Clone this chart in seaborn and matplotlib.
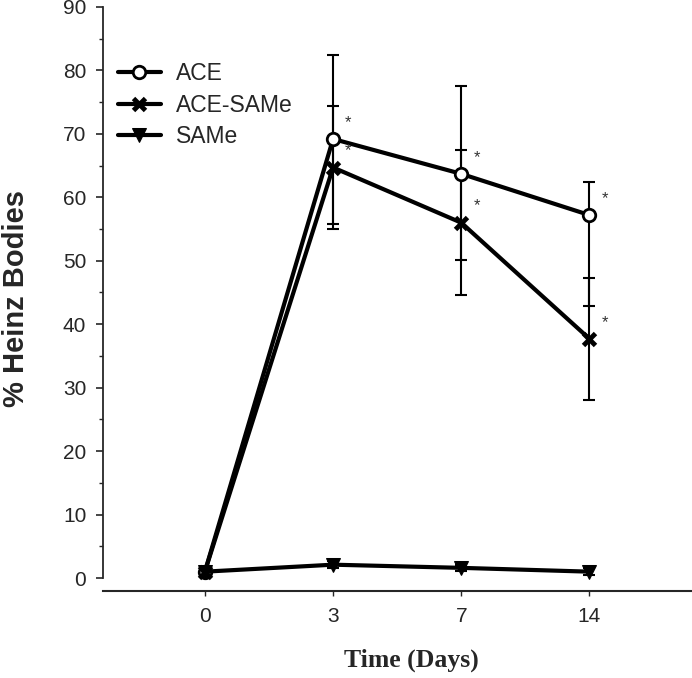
import numpy as np
import pandas as pd
import matplotlib
matplotlib.use('Agg')
import matplotlib.pyplot as plt
from matplotlib.ticker import MultipleLocator
import seaborn as sb

days = ['0', '3', '7', '14']
ace = [1.0, 69.2, 63.7, 57.2]
ace_err_lo = [0.5, 13.4, 13.6, 14.3]
ace_err_hi = [0.5, 13.3, 13.9, 5.2]
ace_same = [1.0, 64.7, 56.0, 37.7]
ace_same_err = [0.5, 9.7, 11.4, 9.6]
same = [1.0, 2.1, 1.6, 1.0]
same_err = [0.5, 0.6, 0.5, 0.5]
starred = {'ACE': [False, True, True, True], 'ACE-SAMe': [False, True, True, True]}

pos = np.arange(len(days))
df = pd.DataFrame({
    'pos': np.tile(pos, 3),
    'value': ace + ace_same + same,
    'group': ['ACE'] * 4 + ['ACE-SAMe'] * 4 + ['SAMe'] * 4,
})

sb.set_style('ticks')
plt.rcParams['font.family'] = ['Liberation Sans', 'DejaVu Sans']

fig = plt.figure(figsize=(6.92, 6.78), dpi=100)
ax = fig.add_axes([0.1488, 0.1283, 0.8512, 0.8614])

# error bars behind the lines
ax.errorbar(pos, ace, yerr=[ace_err_lo, ace_err_hi], fmt='none', ecolor='black',
            elinewidth=1.5, capsize=4, capthick=1.5, zorder=1)
ax.errorbar(pos, ace_same, yerr=ace_same_err, fmt='none', ecolor='black',
            elinewidth=1.5, capsize=4, capthick=1.5, zorder=1)
ax.errorbar(pos, same, yerr=same_err, fmt='none', ecolor='black',
            elinewidth=1.5, capsize=4, capthick=1.5, zorder=1)

styles = {
    'ACE': dict(marker='o', markersize=9, markerfacecolor='white', markeredgecolor='black', markeredgewidth=2),
    'ACE-SAMe': dict(marker='x', markersize=9, markeredgecolor='black', markeredgewidth=3.5),
    'SAMe': dict(marker='v', markersize=10, markerfacecolor='black', markeredgecolor='black'),
}
for name, kw in styles.items():
    sb.lineplot(data=df[df['group'] == name], x='pos', y='value', ax=ax, color='black',
                linewidth=3, label=name, zorder=3, **kw)

# significance asterisks
for name, vals in [('ACE', ace), ('ACE-SAMe', ace_same)]:
    for p, v, s in zip(pos, vals, starred[name]):
        if s:
            ax.annotate('*', (p, v), xytext=(11, 12), textcoords='offset points',
                        fontsize=12, color='#333333', ha='center', va='center')

ax.set_xlim(-0.795, 3.8)
ax.set_ylim(-2.05, 90)
ax.set_xticks(pos)
ax.set_xticklabels(days)
ax.yaxis.set_major_locator(MultipleLocator(10))
ax.yaxis.set_minor_locator(MultipleLocator(5))
ax.spines['left'].set_bounds(0, 90)
ax.spines['right'].set_visible(False)
ax.spines['top'].set_visible(False)
ax.spines['left'].set_linewidth(1.3)
ax.spines['bottom'].set_linewidth(1.5)
ax.tick_params(axis='y', which='major', length=5, width=1.2, labelsize=15, pad=7)
ax.tick_params(axis='y', which='minor', length=3, width=1.0)
ax.tick_params(axis='x', which='major', length=3.5, width=1.0, labelsize=15, pad=8)

ax.set_ylabel('% Heinz Bodies', fontsize=21, fontweight='bold')
ax.yaxis.set_label_coords(-0.124, 0.50)
ax.set_xlabel('Time (Days)', fontsize=18.5, fontweight='bold', family=['Liberation Serif'])
ax.xaxis.set_label_coords(0.523, -0.098)

ax.legend(loc='upper left', bbox_to_anchor=(0.026, 0.905), frameon=False, fontsize=16.5,
          handlelength=1.85, handletextpad=0.65, labelspacing=0.37, borderpad=0, borderaxespad=0)

fig.savefig('out.png', dpi=100)
